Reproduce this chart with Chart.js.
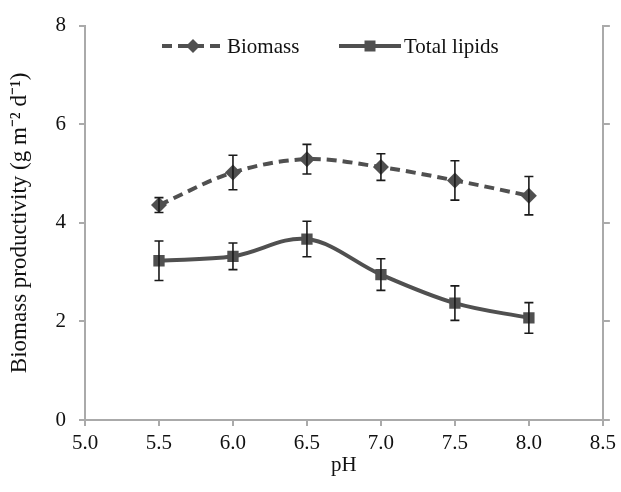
<!DOCTYPE html>
<html>
<head>
<meta charset="utf-8">
<script src="https://cdn.jsdelivr.net/npm/chart.js@4/dist/chart.umd.min.js"></script>
<style>
  html, body { margin: 0; padding: 0; background: #ffffff; }
  #wrap { width: 621px; height: 492px; position: relative; }
</style>
</head>
<body>
<div id="wrap"><canvas id="c" width="621" height="492"></canvas></div>
<script>
// ---- Data ----
const pH = [5.5, 6.0, 6.5, 7.0, 7.5, 8.0];
const biomass = [4.36, 5.02, 5.29, 5.13, 4.86, 4.55];
const biomassErr = [0.15, 0.35, 0.30, 0.27, 0.40, 0.39];
const lipids = [3.23, 3.32, 3.67, 2.95, 2.37, 2.07];
const lipidsErr = [0.40, 0.27, 0.36, 0.32, 0.35, 0.31];
const seriesNames = ['Biomass', 'Total lipids'];
const xTitle = 'pH';
const yTitle = 'Biomass productivity (g m\u207B\u00B2 d\u207B\u00B9)';

const errors = [biomassErr, lipidsErr];
const FONT = "'Liberation Serif', 'Times New Roman', serif";
const LINE = '#505050';
const AXIS = '#aaaaaa';
const TEXT = '#111111';

const toPts = (ys) => ys.map((y, i) => ({ x: pH[i], y }));

const errorBars = {
  id: 'errorBars',
  afterDatasetsDraw(chart) {
    const { ctx, scales: { x, y } } = chart;
    ctx.save();
    ctx.strokeStyle = '#1a1a1a';
    ctx.lineWidth = 1.6;
    chart.data.datasets.forEach((ds, di) => {
      const errs = errors[di];
      ds.data.forEach((p, i) => {
        const px = x.getPixelForValue(p.x);
        const yt = y.getPixelForValue(p.y + errs[i]);
        const yb = y.getPixelForValue(p.y - errs[i]);
        ctx.beginPath();
        ctx.moveTo(px, yt); ctx.lineTo(px, yb);
        ctx.moveTo(px - 4.5, yt); ctx.lineTo(px + 4.5, yt);
        ctx.moveTo(px - 4.5, yb); ctx.lineTo(px + 4.5, yb);
        ctx.stroke();
      });
    });
    ctx.restore();
  }
};

const customLegend = {
  id: 'customLegend',
  afterDraw(chart) {
    const { ctx } = chart;
    const items = [
      { ds: chart.data.datasets[0], x0: 162, x1: 224, text: 227 },
      { ds: chart.data.datasets[1], x0: 339, x1: 401, text: 404 }
    ];
    const yc = 46;
    ctx.save();
    items.forEach(it => {
      const ds = it.ds;
      ctx.strokeStyle = LINE;
      ctx.lineWidth = 4;
      ctx.setLineDash(ds.borderDash || []);
      ctx.beginPath();
      ctx.moveTo(it.x0, yc); ctx.lineTo(it.x1, yc);
      ctx.stroke();
      ctx.setLineDash([]);
      const cx = (it.x0 + it.x1) / 2;
      ctx.fillStyle = LINE;
      ctx.beginPath();
      if (ds.pointStyle === 'rectRot') {
        const r = 7;
        ctx.moveTo(cx, yc - r); ctx.lineTo(cx + r, yc); ctx.lineTo(cx, yc + r); ctx.lineTo(cx - r, yc);
        ctx.closePath();
      } else {
        const h = 5.5;
        ctx.rect(cx - h, yc - h, 2 * h, 2 * h);
      }
      ctx.fill();
      ctx.fillStyle = TEXT;
      ctx.font = '21px ' + FONT;
      ctx.textBaseline = 'middle';
      ctx.textAlign = 'left';
      ctx.fillText(ds.label, it.text, yc + 1);
    });
    ctx.restore();
  }
};

new Chart(document.getElementById('c'), {
  type: 'line',
  data: {
    datasets: [
      {
        label: seriesNames[0],
        data: toPts(biomass),
        borderColor: LINE,
        backgroundColor: LINE,
        borderWidth: 4,
        borderDash: [10, 6],
        pointStyle: 'rectRot',
        pointRadius: 8,
        pointBorderWidth: 0,
        tension: 0.35
      },
      {
        label: seriesNames[1],
        data: toPts(lipids),
        borderColor: LINE,
        backgroundColor: LINE,
        borderWidth: 4,
        pointStyle: 'rect',
        pointRadius: 8,
        pointBorderWidth: 0,
        tension: 0.35
      }
    ]
  },
  options: {
    responsive: false,
    animation: false,
    layout: { padding: { top: 16, left: 0, right: 0, bottom: 0 } },
    plugins: { legend: { display: false }, tooltip: { enabled: false } },
    scales: {
      x: {
        type: 'linear',
        min: 5.0, max: 8.5,
        afterFit(s) { s.height = 72; },
        ticks: {
          stepSize: 0.5,
          padding: 5,
          color: TEXT,
          font: { family: FONT, size: 21 },
          callback: (v) => Number(v).toFixed(1),
          maxRotation: 0
        },
        grid: { display: true, drawOnChartArea: false, drawTicks: true, tickLength: 6, color: AXIS, lineWidth: 2 },
        border: { display: true, color: AXIS, width: 2 },
        title: { display: true, text: xTitle, color: TEXT, font: { family: FONT, size: 21 }, padding: { top: 0, bottom: 14 } }
      },
      y: {
        position: 'left',
        min: 0, max: 8,
        afterFit(s) { s.width = 85; },
        ticks: {
          stepSize: 2,
          padding: 13,
          color: TEXT,
          font: { family: FONT, size: 21 }
        },
        grid: { display: true, drawOnChartArea: false, drawTicks: true, tickLength: 6, color: AXIS, lineWidth: 2 },
        border: { display: true, color: AXIS, width: 2 },
        title: { display: true, text: yTitle, color: TEXT, font: { family: FONT, size: 23 }, padding: { top: 6, bottom: 0 } }
      },
      y2: {
        position: 'right',
        min: 0, max: 8,
        afterFit(s) { s.width = 18; },
        ticks: { stepSize: 2, display: false },
        grid: { display: true, drawOnChartArea: false, drawTicks: true, tickLength: 7, color: AXIS, lineWidth: 2 },
        border: { display: true, color: AXIS, width: 2 }
      }
    }
  },
  plugins: [errorBars, customLegend]
});
</script>
</body>
</html>
